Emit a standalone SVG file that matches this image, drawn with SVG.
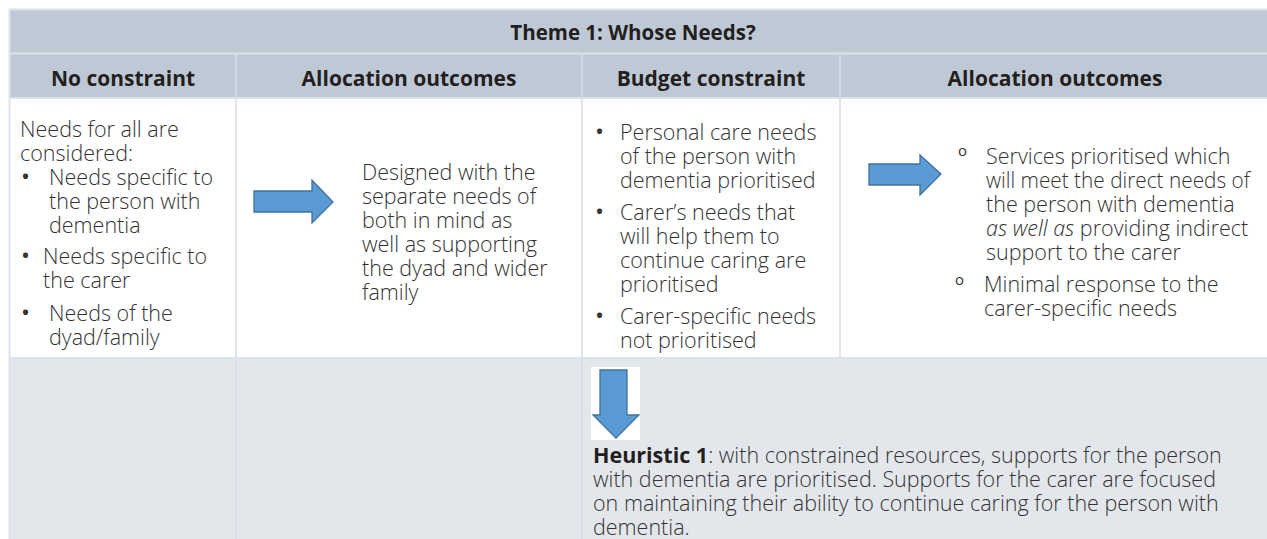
<svg xmlns="http://www.w3.org/2000/svg" width="1267" height="539" viewBox="0 0 1267 539">
<style>
.hdr{fill:#BFC9D5}
.low{fill:#E3E7EC}
.wht{fill:#FFFFFF}
.ln{stroke:#D6DDE5;stroke-width:1.5;fill:none}
.lnw{stroke:#DCE3EA;stroke-width:2;fill:none}
.h{font-family:"Open Sans","Noto Sans",sans-serif;font-weight:700;font-size:21px;fill:#231F20;text-anchor:middle}
.t{font-family:"Open Sans","Noto Sans",sans-serif;font-weight:300;font-size:21.5px;fill:#333333}
.b{font-weight:700;fill:#231F20}
.i{font-style:italic}
.bul{font-family:"Open Sans","Noto Sans",sans-serif;font-size:24px;fill:#333333}
.o{font-family:"Open Sans","Noto Sans",sans-serif;font-size:15px;fill:#333333}
.arr{fill:#5B9BD5;stroke:#41719C;stroke-width:1.3}
</style>
<rect x="0" y="0" width="1267" height="539" fill="#FFFFFF"/>
<g id="table">
<rect class="hdr" x="9" y="9" width="1258" height="89"/>
<rect class="wht" x="9" y="98" width="1258" height="260"/>
<rect class="low" x="9" y="358" width="1258" height="181"/>
<line class="lnw" x1="9" y1="9.5" x2="1267" y2="9.5"/>
<line class="lnw" x1="9" y1="53.5" x2="1267" y2="53.5"/>
<line class="lnw" x1="9" y1="98" x2="1267" y2="98"/>
<line class="lnw" x1="9" y1="358" x2="1267" y2="358"/>
<line class="lnw" x1="9.5" y1="9" x2="9.5" y2="539"/>
<line class="ln" x1="236" y1="53" x2="236" y2="539"/>
<line class="ln" x1="582" y1="53" x2="582" y2="539"/>
<line class="ln" x1="840" y1="53" x2="840" y2="358"/>
</g>
<g id="theme-header">
<text class="h" x="633" y="40" style="font-size:20.5px">Theme 1: Whose Needs?</text>
</g>
<g id="col-headers">
<text class="h" x="123" y="86">No constraint</text>
<text class="h" x="409" y="86">Allocation outcomes</text>
<text class="h" x="711" y="86">Budget constraint</text>
<text class="h" x="1055" y="86">Allocation outcomes</text>
</g>
<g id="no-constraint">
<text class="t" x="20" y="137">Needs for all are</text>
<text class="t" x="20" y="161">considered:</text>
<text class="bul" x="21" y="185">•</text>
<text class="t" x="49" y="185">Needs specific to</text>
<text class="t" x="49" y="209">the person with</text>
<text class="t" x="49" y="233">dementia</text>
<text class="bul" x="21" y="264">•</text>
<text class="t" x="43" y="264">Needs specific to</text>
<text class="t" x="43" y="288">the carer</text>
<text class="bul" x="21" y="321">•</text>
<text class="t" x="49" y="321">Needs of the</text>
<text class="t" x="49" y="345">dyad/family</text>
</g>
<g id="outcome-1">
<text class="t" x="362" y="180">Designed with the</text>
<text class="t" x="362" y="204">separate needs of</text>
<text class="t" x="362" y="228">both in mind as</text>
<text class="t" x="362" y="252">well as supporting</text>
<text class="t" x="362" y="276">the dyad and wider</text>
<text class="t" x="362" y="300">family</text>
</g>
<g id="budget-constraint">
<text class="bul" x="595" y="140">•</text>
<text class="t" x="620" y="140">Personal care needs</text>
<text class="t" x="620" y="164">of the person with</text>
<text class="t" x="620" y="188">dementia prioritised</text>
<text class="bul" x="595" y="220">•</text>
<text class="t" x="620" y="220">Carer’s needs that</text>
<text class="t" x="620" y="244">will help them to</text>
<text class="t" x="620" y="268">continue caring are</text>
<text class="t" x="620" y="292">prioritised</text>
<text class="bul" x="595" y="324">•</text>
<text class="t" x="620" y="324">Carer-specific needs</text>
<text class="t" x="620" y="348">not prioritised</text>
</g>
<g id="outcome-2">
<text class="o" x="958" y="156">o</text>
<text class="t" x="986" y="164">Services prioritised which</text>
<text class="t" x="986" y="188" textLength="264" lengthAdjust="spacingAndGlyphs">will meet the direct needs of</text>
<text class="t" x="986" y="212">the person with dementia</text>
<text class="t" x="986" y="236"><tspan class="i">as well as</tspan> providing indirect</text>
<text class="t" x="986" y="260">support to the carer</text>
<text class="o" x="955" y="285">o</text>
<text class="t" x="984" y="292">Minimal response to the</text>
<text class="t" x="984" y="316">carer-specific needs</text>
</g>
<g id="heuristic">
<text class="t" x="593" y="463"><tspan class="b">Heuristic 1</tspan>: with constrained resources, supports for the person</text>
<text class="t" x="593" y="487">with dementia are prioritised. Supports for the carer are focused</text>
<text class="t" x="593" y="511">on maintaining their ability to continue caring for the person with</text>
<text class="t" x="593" y="535">dementia.</text>
</g>
<g id="connectors">
<path class="arr" d="M254,191 H312 V180 L333,202 L312,223 V212 H254 Z"/>
<path class="arr" d="M869,164 H920 V155 L941,174 L920,195 V185 H869 Z"/>
<rect x="591" y="367" width="49" height="73" fill="#FFFFFF"/>
<path class="arr" d="M600,370 H627 V415 H639 L616,438 L593,415 H600 Z"/>
</g>
</svg>
